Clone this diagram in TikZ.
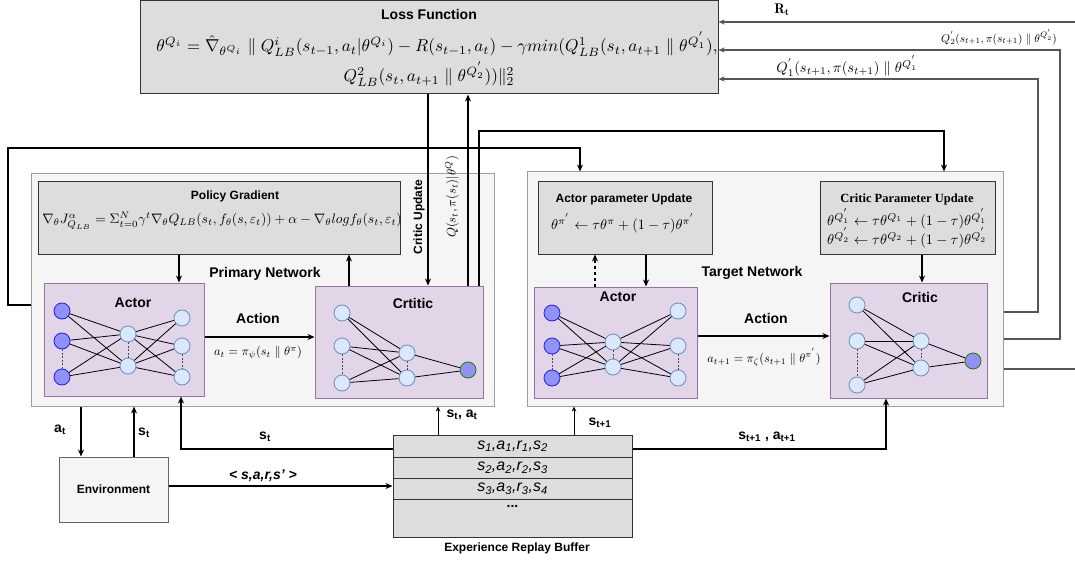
\documentclass[tikz,border=0pt]{standalone}
\usepackage{amsmath}
\usepackage{graphicx}
\usepackage{fontspec}
\setsansfont{Liberation Sans}
\newfontfamily\timesfont{Liberation Serif}
\usetikzlibrary{arrows.meta}

\definecolor{boxgray}{HTML}{DDDDDD}
\definecolor{boxline}{HTML}{333333}
\definecolor{panelfill}{HTML}{F5F5F5}
\definecolor{panelline}{HTML}{9E9E9E}
\definecolor{netfill}{HTML}{E1D5E7}
\definecolor{netline}{HTML}{9673A6}
\definecolor{ndfill}{HTML}{DAE8FC}
\definecolor{ndline}{HTML}{6C8EBF}
\definecolor{infill}{HTML}{9191FA}
\definecolor{inline}{HTML}{1F1FE0}
\definecolor{outline}{HTML}{2D7600}
\definecolor{wire}{HTML}{555555}

\newcommand\fsz[1]{\fontsize{#1}{#1}\selectfont}
\newcommand\bsub[2]{\textbf{#1}\textsubscript{\textbf{#2}}}
\newcommand\isub[2]{#1\textsubscript{#2}}
\newcommand\mth[2]{\scalebox{#1}{$#2$}}

\tikzset{
  box/.style={draw=boxline, fill=boxgray, line width=1pt, inner sep=0pt},
  panel/.style={draw=panelline, fill=panelfill, line width=1pt, inner sep=0pt},
  netbox/.style={draw=netline, fill=netfill, line width=1pt, inner sep=0pt},
  envbox/.style={draw=black!60, fill=panelfill, line width=1pt, inner sep=0pt},
  bufrow/.style={draw=boxline, fill=boxgray, line width=1pt, inner sep=0pt, minimum width=239pt},
  nd/.style={circle, minimum size=16pt, inner sep=0pt, line width=0.8pt, draw=ndline, fill=ndfill},
  inp/.style={nd, draw=inline, fill=infill},
  outq/.style={nd, draw=outline, fill=infill},
  link/.style={line width=0.8pt},
  dlink/.style={line width=0.7pt, dash pattern=on 2pt off 1.5pt, draw=black!70},
  arr/.style={-{Stealth[length=7pt,width=6pt]}, line width=1.2pt},
  sarr/.style={-{Stealth[length=5pt,width=4.5pt]}, line width=1pt},
  garr/.style={-{Stealth[length=6pt,width=5pt]}, line width=1.3pt, draw=wire},
  gline/.style={line width=1.3pt, draw=wire},
  lbl/.style={font=\sffamily\bfseries\fsz{14}, inner sep=0pt},
  ttl/.style={font=\sffamily\bfseries\fsz{12}, inner sep=0pt},
  eq/.style={inner sep=0pt},
  rowtxt/.style={font=\sffamily\itshape\fsz{16}},
}

\begin{document}
\begin{tikzpicture}[x=1pt,y=-1pt]
\useasboundingbox (0,0) rectangle (1075,561);
\fill[white] (0,0) rectangle (1075,561);

% network panels
\node[panel, minimum width=463pt, minimum height=232pt] (primary) at (262.5,290) {};
\node[panel, minimum width=476pt, minimum height=234pt] (target) at (765,289) {};

% grey formula boxes
\node[box, minimum width=578pt, minimum height=93pt] (loss) at (429,47.5) {};
\node[box, minimum width=362pt, minimum height=72pt] (pg) at (219,218) {};
\node[box, minimum width=174pt, minimum height=72pt] (apu) at (625,218) {};
\node[box, minimum width=175pt, minimum height=72pt] (cpu) at (907.5,218) {};

% actor / critic boxes
\node[netbox, minimum width=160pt, minimum height=113pt] (pactor) at (124,339.5) {};
\node[netbox, minimum width=168pt, minimum height=112pt] (pcritic) at (399,342) {};
\node[netbox, minimum width=163pt, minimum height=111pt] (tactor) at (615.5,342.5) {};
\node[netbox, minimum width=157pt, minimum height=115pt] (tcritic) at (908.5,340.5) {};

% environment and replay buffer
\node[envbox, minimum width=109pt, minimum height=65pt, font=\sffamily\bfseries\fsz{12}] (env) at (113.5,489.5) {Environment};
\node[bufrow, rowtxt, minimum height=22pt] (r1) at (512.5,446) {\isub{s}{1},\isub{a}{1},\isub{r}{1},\isub{s}{2}};
\node[bufrow, rowtxt, minimum height=21pt] (r2) at (512.5,467.5) {\isub{s}{2},\isub{a}{2},\isub{r}{2},\isub{s}{3}};
\node[bufrow, rowtxt, minimum height=21pt] (r3) at (512.5,488.5) {\isub{s}{3},\isub{a}{3},\isub{r}{3},\isub{s}{4}};
\node[bufrow, minimum height=38pt] (r4) at (512.5,518) {};
\node[font=\sffamily\bfseries\fsz{14}, inner sep=0pt] (dots) at (512.5,506) {...};
\node[ttl] (buflbl) at (517,548) {Experience Replay Buffer};

% primary actor network
\foreach \n/\x/\y in {i1/62/311, i2/62/341, i3/62/377} \node[inp] (pa\n) at (\x,\y) {};
\foreach \n/\x/\y in {h1/128/334, h2/128/366, o1/182/318, o2/182/346, o3/182/377} \node[nd] (pa\n) at (\x,\y) {};
\foreach \a in {i1,i2,i3} \foreach \b in {h1,h2} \draw[link] (pa\a) -- (pa\b);
\foreach \a in {h1,h2} \foreach \b in {o1,o2,o3} \draw[link] (pa\a) -- (pa\b);
\draw[dlink] (pai2) -- (pai3);
\draw[dlink] (pah1) -- (pah2);
\draw[dlink] (pao2) -- (pao3);

% primary critic network
\foreach \n/\x/\y in {l1/342/313, l2/342/346, l3/342/383, m1/407/353, m2/407/378} \node[nd] (pc\n) at (\x,\y) {};
\node[outq] (pcout) at (468,370) {};
\foreach \a in {l1,l2,l3} \foreach \b in {m1,m2} \draw[link] (pc\a) -- (pc\b);
\draw[link] (pcm1) -- (pcout);
\draw[link] (pcm2) -- (pcout);
\draw[dlink] (pcl2) -- (pcl3);
\draw[dlink] (pcm1) -- (pcm2);

% target actor network
\foreach \n/\x/\y in {i1/552/313, i2/552/346, i3/552/378} \node[inp] (ta\n) at (\x,\y) {};
\foreach \n/\x/\y in {h1/613/342, h2/613/367, o1/678/311, o2/678/346, o3/678/378} \node[nd] (ta\n) at (\x,\y) {};
\foreach \a in {i1,i2,i3} \foreach \b in {h1,h2} \draw[link] (ta\a) -- (ta\b);
\foreach \a in {h1,h2} \foreach \b in {o1,o2,o3} \draw[link] (ta\a) -- (ta\b);
\draw[dlink] (tai2) -- (tai3);
\draw[dlink] (tah1) -- (tah2);
\draw[dlink] (tao2) -- (tao3);

% target critic network
\foreach \n/\x/\y in {l1/857/305, l2/857/341, l3/857/385, m1/921/341, m2/921/368} \node[nd] (tc\n) at (\x,\y) {};
\node[outq] (tcout) at (973,361) {};
\foreach \a in {l1,l2,l3} \foreach \b in {m1,m2} \draw[link] (tc\a) -- (tc\b);
\draw[link] (tcm1) -- (tcout);
\draw[link] (tcm2) -- (tcout);
\draw[dlink] (tcl2) -- (tcl3);
\draw[dlink] (tcm1) -- (tcm2);

% helper coordinates for connector routing
\coordinate (xa) at (428,0);
\coordinate (xb) at (468,0);
\coordinate (xc) at (479,131);
\coordinate (xd) at (944,131);
\coordinate (lp1) at (8,305);
\coordinate (lp2) at (8,148);
\coordinate (lp3) at (580,148);
\coordinate (x179) at (179,0);
\coordinate (x349) at (349,0);
\coordinate (ya) at (0,337);
\coordinate (x595) at (595,0);
\coordinate (x646) at (646,0);
\coordinate (x922) at (922,0);
\coordinate (yb) at (0,336);
\coordinate (ra1) at (1038,312);
\coordinate (ra2) at (1038,79);
\coordinate (rb1) at (1060,339);
\coordinate (rb2) at (1060,50);
\coordinate (rc) at (1075,369);
\coordinate (rd) at (1075,22);
\coordinate (x81) at (81,0);
\coordinate (x134) at (134,0);
\coordinate (bs) at (181,449);
\coordinate (be) at (0,486);
\coordinate (x438) at (438,0);
\coordinate (x574) at (574,0);
\coordinate (bt) at (886,449);

% critic update and Q-value feedback
\draw[arr] (loss.south -| xa) -- (pcritic.north -| xa);
\draw[arr] (pcritic.north -| xb) -- (loss.south -| xb);
\draw[arr] (pcritic.north -| xc) -- (xc) -- (xd) -- (target.north -| xd);
\draw[arr] (primary.west |- lp1) -- (lp1) -- (lp2) -- (lp3) -- (target.north -| lp3);

% primary network internals
\draw[arr] (pg.south -| x179) -- (pactor.north -| x179);
\draw[arr] (pcritic.north -| x349) -- (pg.south -| x349);
\draw[arr] (pactor.east |- ya) -- (pcritic.west |- ya);

% target network internals
\draw[arr, dashed] (tactor.north -| x595) -- (apu.south -| x595);
\draw[arr] (apu.south -| x646) -- (tactor.north -| x646);
\draw[arr] (cpu.south -| x922) -- (tcritic.north -| x922);
\draw[arr] (tactor.east |- yb) -- (tcritic.west |- yb);

% target values back to the loss
\draw[garr] (target.east |- ra1) -- (ra1) -- (ra2) -- (loss.east |- ra2);
\draw[garr] (target.east |- rb1) -- (rb1) -- (rb2) -- (loss.east |- rb2);
\draw[gline] (target.east |- rc) -- (rc);
\draw[garr] (rd) -- (loss.east |- rd);

% environment and buffer links
\draw[arr] (primary.south -| x81) -- (env.north -| x81);
\draw[arr] (env.north -| x134) -- (primary.south -| x134);
\draw[arr] (r1.west |- bs) -- (bs) -- (pactor.south -| bs);
\draw[arr] (env.east |- be) -- (r3.west |- be);
\draw[sarr] (r1.north -| x438) -- (primary.south -| x438);
\draw[sarr] (r1.north -| x574) -- (target.south -| x574);
\draw[arr] (r1.east |- bt) -- (bt) -- (tcritic.south -| bt);

% texts of the loss box
\node[font=\sffamily\bfseries\fsz{14}, inner sep=0pt] (losst) at (429,14) {Loss Function};
\node[eq] (lossf1) at (437,44) {\mth{1.72}{\theta^{Q_i}=\hat{\nabla}_{\theta^{Q_i}}\parallel Q^{i}_{LB}(s_{t-1},a_t|\theta^{Q_i})-R(s_{t-1},a_t)-\gamma min(Q^{1}_{LB}(s_t,a_{t+1}\parallel\theta^{Q^{'}_{1}}),}};
\node[eq] (lossf2) at (429,74) {\mth{1.72}{Q^{2}_{LB}(s_t,a_{t+1}\parallel\theta^{Q^{'}_{2}}))\|^{2}_{2}}};

% texts of the primary network
\node[ttl] (pgt) at (235,196) {Policy Gradient};
\node[eq] (pgf) at (222,221) {\mth{1.37}{\nabla_{\theta}J^{\alpha}_{Q_{LB}}=\Sigma^{N}_{t=0}\gamma^{t}\nabla_{\theta}Q_{LB}(s_t,f_{\theta}(s,\varepsilon_t))+\alpha-\nabla_{\theta}log f_{\theta}(s_t,\varepsilon_t)}};
\node[lbl] (primt) at (265,274) {Primary Network};
\node[lbl] (pat) at (133,303) {Actor};
\node[lbl] (pct) at (413,303) {Crtitic};
\node[lbl] (pact) at (258,318) {Action};
\node[eq] (pacf) at (258,353) {\mth{1.24}{a_t=\pi_{\psi}(s_t\parallel\theta^{\pi})}};
\node[ttl, rotate=90] (cut) at (419,217) {Critic Update};
\node[eq, rotate=90] (qlbl) at (452,197) {\mth{1.26}{Q(s_t,\pi(s_t)|\theta^{Q})}};

% texts of the target network
\node[lbl] (targt) at (752,273) {Target Network};
\node[ttl] (aput) at (624,199) {Actor parameter Update};
\node[eq] (apuf) at (623,223) {\mth{1.42}{\theta^{\pi^{'}}\leftarrow\tau\theta^{\pi}+(1-\tau)\theta^{\pi^{'}}}};
\node[font=\timesfont\bfseries\fsz{12.5}, inner sep=0pt] (cput) at (907,199) {Critic Parameter Update};
\node[eq] (cpuf1) at (907,219) {\mth{1.44}{\theta^{Q^{'}_{1}}\leftarrow\tau\theta^{Q_1}+(1-\tau)\theta^{Q^{'}_{1}}}};
\node[eq] (cpuf2) at (907,238) {\mth{1.44}{\theta^{Q^{'}_{2}}\leftarrow\tau\theta^{Q_2}+(1-\tau)\theta^{Q^{'}_{2}}}};
\node[lbl] (tat) at (618,297) {Actor};
\node[lbl] (tct) at (920,297) {Critic};
\node[lbl] (tact) at (766,318) {Action};
\node[eq] (tacf) at (764,357) {\mth{1.22}{a_{t+1}=\pi_{\zeta}(s_{t+1}\parallel\theta^{\pi^{'}})}};

% labels of the feedback wires
\node[eq] (rtl) at (782,10) {\mth{1.4}{\mathbf{R_t}}};
\node[eq] (q2l) at (999,37) {\mth{1.14}{Q^{'}_{2}(s_{t+1},\pi(s_{t+1})\parallel\theta^{Q^{'}_{2}})}};
\node[eq] (q1l) at (847,66) {\mth{1.45}{Q^{'}_{1}(s_{t+1},\pi(s_{t+1})\parallel\theta^{Q^{'}_{1}}}};

% labels of the environment and buffer links
\node[font=\sffamily\fsz{14}, inner sep=0pt] (atl) at (60,430) {\bsub{a}{t}};
\node[font=\sffamily\fsz{14}, inner sep=0pt] (stl) at (144,433) {\bsub{s}{t}};
\node[font=\sffamily\fsz{14}, inner sep=0pt] (stl2) at (265,437) {\bsub{s}{t}};
\node[font=\sffamily\bfseries\itshape\fsz{14}, inner sep=0pt] (sarl) at (263,476) {< s,a,r,s' >};
\node[font=\sffamily\fsz{14}, inner sep=0pt] (satl) at (462,415) {\bsub{s}{t}\textbf{,} \bsub{a}{t}};
\node[font=\sffamily\fsz{14}, inner sep=0pt] (st1l) at (600,423) {\bsub{s}{t+1}};
\node[font=\sffamily\fsz{14}, inner sep=0pt] (sat1l) at (767,437) {\bsub{s}{t+1} \textbf{,} \bsub{a}{t+1}};
\end{tikzpicture}
\end{document}
